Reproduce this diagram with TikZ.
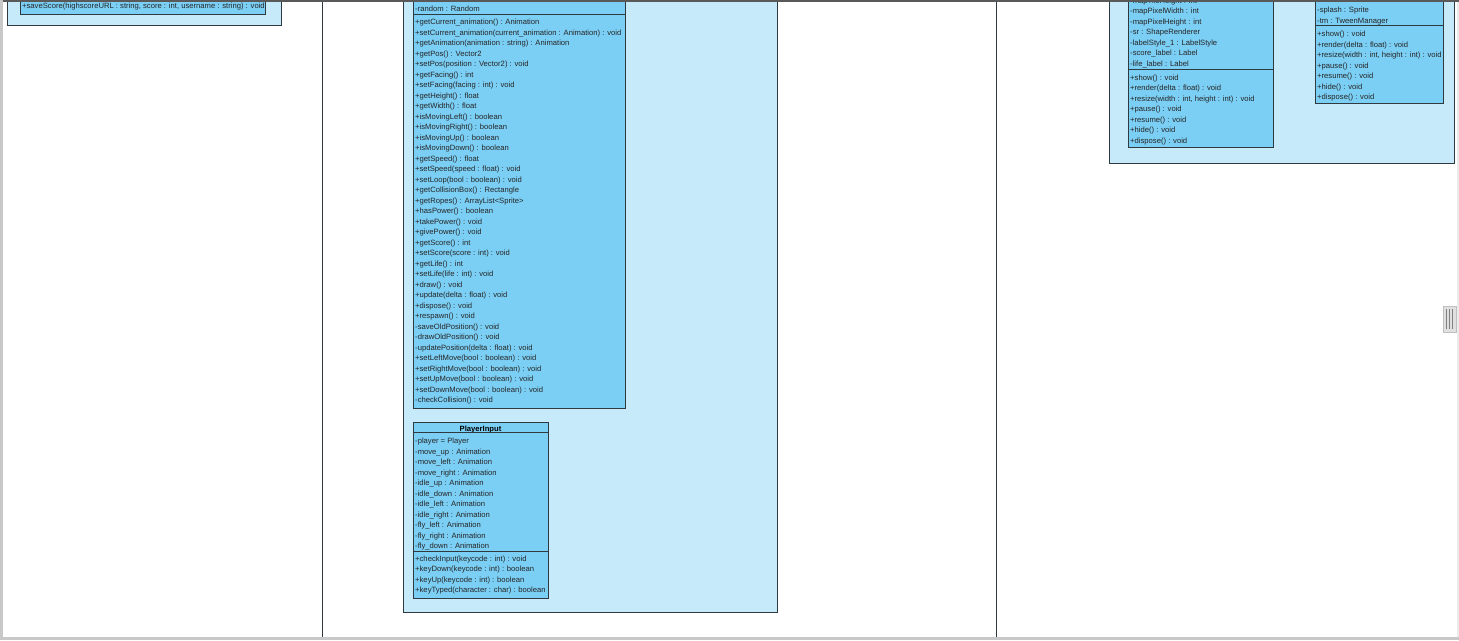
\documentclass[tikz,border=0pt]{standalone}
\usepackage{fontspec}
\setmainfont{Liberation Sans}
\usepackage{xcolor}
\usetikzlibrary{positioning,calc}

\definecolor{pkgblue}{HTML}{C6EAFA}
\definecolor{clsblue}{HTML}{7BCEF4}
\definecolor{umlline}{HTML}{2E3A40}
\definecolor{framegray}{HTML}{C8C8C8}

\newcommand{\umlfont}{\fontsize{7.65}{10.5}\selectfont}

% members nodes sit on the baseline of their last line
\tikzset{
	pkgbox/.style={draw=umlline, fill=pkgblue, line width=0.8pt, inner sep=0pt, outer sep=0pt, anchor=north west},
	clsbox/.style={draw=umlline, fill=clsblue, line width=0.8pt, inner sep=0pt, outer sep=0pt, anchor=north west},
	members/.style={font=\umlfont, text=black!85, align=left, anchor=base west, inner sep=0pt},
	divider/.style={draw=umlline, line width=0.8pt},
}

\begin{document}
\begin{tikzpicture}[x=1pt, y=-1pt]
	\clip (0,0) rectangle (1459,640);
	\fill[white] (0,0) rectangle (1459,640);
	
	% left package (score service)
	\node[pkgbox, minimum width=274pt, minimum height=65pt] (scorePkg) at (7,-40) {};
	\node[clsbox, minimum width=245pt, minimum height=54pt] (scoreCls) at (20,-40) {};
	\node[members] (scoreOps) at (22,8) {+saveScore(highscoreURL : string, score : int, username : string) : void};
	
	% middle package
	\node[pkgbox, minimum width=374pt, minimum height=652pt] (gamePkg) at (403,-40) {};
	
	% Player
	\node[clsbox, minimum width=212pt, minimum height=448pt] (player) at (413,-40) {};
	\node[members] (playerAttr) at (415,11.3) {-random : Random};
	\draw[divider] (413,14.5) -- (625,14.5);
	\node[members] (playerOps) at (415,402.5) {
		+getCurrent\_animation() : Animation\\
		+setCurrent\_animation(current\_animation : Animation) : void\\
		+getAnimation(animation : string) : Animation\\
		+getPos() : Vector2\\
		+setPos(position : Vector2) : void\\
		+getFacing() : int\\
		+setFacing(facing : int) : void\\
		+getHeight() : float\\
		+getWidth() : float\\
		+isMovingLeft() : boolean\\
		+isMovingRight() : boolean\\
		+isMovingUp() : boolean\\
		+isMovingDown() : boolean\\
		+getSpeed() : float\\
		+setSpeed(speed : float) : void\\
		+setLoop(bool : boolean) : void\\
		+getCollisionBox() : Rectangle\\
		+getRopes() : ArrayList<Sprite>\\
		+hasPower() : boolean\\
		+takePower() : void\\
		+givePower() : void\\
		+getScore() : int\\
		+setScore(score : int) : void\\
		+getLife() : int\\
		+setLife(life : int) : void\\
		+draw() : void\\
		+update(delta : float) : void\\
		+dispose() : void\\
		+respawn() : void\\
		-saveOldPosition() : void\\
		-drawOldPosition() : void\\
		-updatePosition(delta : float) : void\\
		+setLeftMove(bool : boolean) : void\\
		+setRightMove(bool : boolean) : void\\
		+setUpMove(bool : boolean) : void\\
		+setDownMove(bool : boolean) : void\\
		-checkCollision() : void
	};
	
	% PlayerInput
	\node[clsbox, minimum width=135pt, minimum height=176pt] (playerInput) at (413,422) {};
	\node[font=\umlfont\bfseries, anchor=base, inner sep=0pt] (inputTitle) at (480.5,431) {PlayerInput};
	\draw[divider] (413,432.5) -- (548,432.5);
	\node[members] (inputAttr) at (415,548.5) {
		-player = Player\\
		-move\_up : Animation\\
		-move\_left : Animation\\
		-move\_right : Animation\\
		-idle\_up : Animation\\
		-idle\_down : Animation\\
		-idle\_left : Animation\\
		-idle\_right : Animation\\
		-fly\_left : Animation\\
		-fly\_right : Animation\\
		-fly\_down : Animation
	};
	\draw[divider] (413,551.5) -- (548,551.5);
	\node[members] (inputOps) at (415,592.5) {
		+checkInput(keycode : int) : void\\
		+keyDown(keycode : int) : boolean\\
		+keyUp(keycode : int) : boolean\\
		+keyTyped(character : char) : boolean
	};
	
	% right package (screens)
	\node[pkgbox, minimum width=345pt, minimum height=203pt] (screenPkg) at (1109,-40) {};
	
	% game screen
	\node[clsbox, minimum width=145pt, minimum height=187pt] (gameScreen) at (1128,-40) {};
	\node[members] (gameAttr) at (1130,66) {
		-mapTileHeight : int\\
		-mapPixelWidth : int\\
		-mapPixelHeight : int\\
		-sr : ShapeRenderer\\
		-labelStyle\_1 : LabelStyle\\
		-score\_label : Label\\
		-life\_label : Label
	};
	\draw[divider] (1128,69.5) -- (1273,69.5);
	\node[members] (gameOps) at (1130,143) {
		+show() : void\\
		+render(delta : float) : void\\
		+resize(width : int, height : int) : void\\
		+pause() : void\\
		+resume() : void\\
		+hide() : void\\
		+dispose() : void
	};
	
	% splash screen
	\node[clsbox, minimum width=128pt, minimum height=143pt] (splashScreen) at (1315,-40) {};
	\node[members] (splashAttr) at (1317,23) {
		-splash : Sprite\\
		-tm : TweenManager
	};
	\draw[divider] (1315,25.5) -- (1443,25.5);
	\node[members] (splashOps) at (1317,99.5) {
		+show() : void\\
		+render(delta : float) : void\\
		+resize(width : int, height : int) : void\\
		+pause() : void\\
		+resume() : void\\
		+hide() : void\\
		+dispose() : void
	};
	
	% page breaks
	\draw[umlline, line width=0.8pt] (322,0) -- (322,637);
	\draw[umlline, line width=0.8pt] (996,0) -- (996,637);
	
	% window frame
	\fill[black!65] (0,0) rectangle (1459,2.2);
	\fill[framegray] (0,0) rectangle (2.5,637);
	\fill[framegray] (0,637) rectangle (1459,640);
	\fill[black!8] (1456.5,2.2) rectangle (1459,637);
	\node[draw=black!25, fill=black!12, minimum width=13pt, minimum height=26pt, inner sep=0pt, anchor=north west] (scrollGrip) at (1443,306) {};
	\foreach \gx in {-3,0,3}
		\draw[black!50, line width=0.9pt] ([xshift=\gx pt, yshift=-3pt]scrollGrip.north) -- ([xshift=\gx pt, yshift=3pt]scrollGrip.south);
\end{tikzpicture}
\end{document}
